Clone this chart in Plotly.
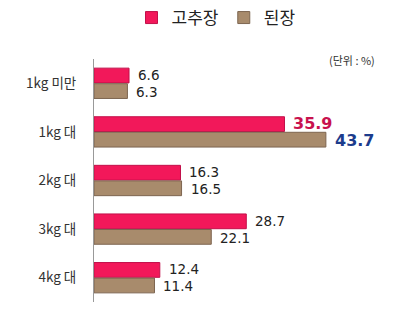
import plotly.graph_objects as go

categories = ["1kg 미만", "1kg 대", "2kg 대", "3kg 대", "4kg 대"]
gochujang = [6.6, 35.9, 16.3, 28.7, 12.4]
doenjang = [6.3, 43.7, 16.5, 22.1, 11.4]
series_names = ["고추장", "된장"]
unit_label = "(단위 : %)"

FONT = "Noto Sans CJK KR"
NUMFONT = "DejaVu Sans"
PINK = "#f2185a"
PINK_LINE = "#c2104a"
BROWN = "#a88b6c"
BROWN_LINE = "#7d6550"

fig = go.Figure()
fig.add_trace(go.Bar(
    y=categories, x=gochujang, name=series_names[0], orientation="h",
    marker=dict(color=PINK, line=dict(color=PINK_LINE, width=1)),
))
fig.add_trace(go.Bar(
    y=categories, x=doenjang, name=series_names[1], orientation="h",
    marker=dict(color=BROWN, line=dict(color=BROWN_LINE, width=1)),
))

# value labels
imax_g = gochujang.index(max(gochujang))
imax_d = doenjang.index(max(doenjang))
for i, (c, v) in enumerate(zip(categories, gochujang)):
    hl = i == imax_g
    fig.add_annotation(
        x=v, y=c, xref="x", yref="y", text=(f"<b>{v}</b>" if hl else f"{v}"),
        showarrow=False, xanchor="left", yanchor="middle", xshift=7, yshift=8.5,
        font=dict(family=NUMFONT, size=16 if hl else 13.5, color="#c8124e" if hl else "#222"),
    )
for i, (c, v) in enumerate(zip(categories, doenjang)):
    hl = i == imax_d
    fig.add_annotation(
        x=v, y=c, xref="x", yref="y", text=(f"<b>{v}</b>" if hl else f"{v}"),
        showarrow=False, xanchor="left", yanchor="middle", xshift=7, yshift=-8.5,
        font=dict(family=NUMFONT, size=16 if hl else 13.5, color="#1c3c8c" if hl else "#222"),
    )

fig.add_annotation(
    x=0.99, y=1, xref="paper", yref="paper", text=unit_label, showarrow=False,
    xanchor="right", yanchor="middle", yshift=-1,
    font=dict(family=FONT, size=11, color="#333"),
)

fig.update_layout(
    width=400, height=312,
    margin=dict(l=94, r=20, t=59, b=10),
    paper_bgcolor="white", plot_bgcolor="white",
    barmode="group", bargap=0.36, bargroupgap=0.05,
    showlegend=True,
    legend=dict(orientation="h", xref="container", x=0.54, xanchor="center",
                yref="container", y=1.0, yanchor="top",
                font=dict(family=FONT, size=17, color="#222"),
                itemwidth=30, tracegroupgap=0),
    font=dict(family=FONT),
    xaxis=dict(range=[0, 53.9], visible=False, fixedrange=True),
    yaxis=dict(categoryorder="array", categoryarray=categories, autorange="reversed",
               showline=True, linecolor="#999", linewidth=1, showgrid=False,
               ticks="", ticklabelstandoff=14,
               tickfont=dict(family=FONT, size=13.5, color="#333")),
)

fig.write_html("out.html")
